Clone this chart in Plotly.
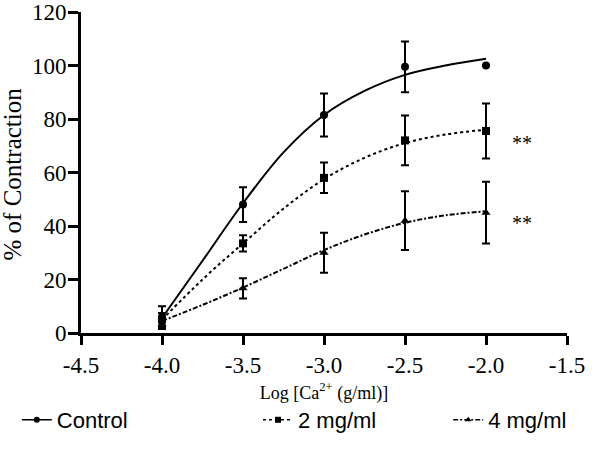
import plotly.graph_objects as go

# ---- data ----
log_ca = [-4.0, -3.5, -3.0, -2.5, -2.0]

control_mean = [6.0, 48.0, 81.5, 99.5, 100.0]
control_sem = [4.0, 6.5, 8.0, 9.5, 0.0]

mg2_mean = [5.0, 33.5, 58.0, 72.0, 75.5]
mg2_sem = [2.5, 3.0, 5.7, 9.3, 10.3]

mg4_mean = [3.5, 16.7, 30.0, 42.0, 45.0]
mg4_sem = [2.0, 3.8, 7.5, 11.0, 11.5]

# fitted curves
curve_x = [-4.0, -3.75, -3.5, -3.25, -3.0, -2.75, -2.5, -2.25, -2.0]
control_curve = [5.6, 27.0, 48.5, 67.5, 81.5, 90.5, 96.5, 100.0, 102.5]
mg2_curve = [5.0, 20.0, 33.5, 46.5, 57.5, 65.5, 71.0, 74.2, 76.0]
mg4_curve = [4.5, 10.5, 17.0, 24.0, 31.0, 36.8, 41.2, 44.0, 45.5]

series_names = ["Control", "2 mg/ml", "4 mg/ml"]
star_labels = ["**", "**"]

x_ticks = [-4.5, -4.0, -3.5, -3.0, -2.5, -2.0, -1.5]
y_ticks = [0, 20, 40, 60, 80, 100, 120]

SERIF = "Liberation Serif, Times New Roman, serif"
SANS = "Liberation Sans, Arial, sans-serif"

styles = [
    dict(mean=control_mean, sem=control_sem, curve=control_curve, symbol="circle", size=8, dash="solid"),
    dict(mean=mg2_mean, sem=mg2_sem, curve=mg2_curve, symbol="square", size=8, dash="dot"),
    dict(mean=mg4_mean, sem=mg4_sem, curve=mg4_curve, symbol="triangle-up", size=8, dash="5px,2px,2px,2px"),
]

fig = go.Figure()
legend_ids = ["legend", "legend2", "legend3"]
for name, st, lg in zip(series_names, styles, legend_ids):
    fig.add_trace(go.Scatter(
        x=curve_x, y=st["curve"], mode="lines", line_shape="spline",
        line=dict(color="black", width=2, dash=st["dash"]),
        showlegend=False, hoverinfo="skip"))
    fig.add_trace(go.Scatter(
        x=log_ca, y=st["mean"], mode="markers",
        marker=dict(symbol=st["symbol"], size=st["size"], color="black"),
        error_y=dict(type="data", array=st["sem"], visible=True,
                     color="black", thickness=2, width=4),
        showlegend=False))
    # legend entry
    fig.add_trace(go.Scatter(
        x=[None], y=[None], mode="lines+markers", name=name,
        line=dict(color="black", width=1.5, dash=st["dash"]),
        marker=dict(symbol=st["symbol"], size=6, color="black"),
        legend=lg, showlegend=True))

star_y = [71, 41]
for txt, yv in zip(star_labels, star_y):
    fig.add_annotation(x=-1.78, y=yv, text=txt, showarrow=False,
                       font=dict(family=SERIF, size=20, color="black"))

# y-axis title as rotated text
fig.add_annotation(xref="paper", yref="paper", x=-0.142, y=0.497,
                   text="% of Contraction", textangle=-90, showarrow=False,
                   xanchor="center", yanchor="middle",
                   font=dict(family=SERIF, size=25, color="black"))

leg_common = dict(font=dict(family=SANS, size=22, color="black"),
                  xref="container", yref="container",
                  yanchor="middle", xanchor="left",
                  bgcolor="rgba(0,0,0,0)", itemsizing="trace")

fig.update_layout(
    width=600, height=457,
    margin=dict(l=81, r=33, t=12, b=124, autoexpand=False),
    paper_bgcolor="white", plot_bgcolor="white",
    legend=dict(x=0.028, y=0.081, **leg_common),
    legend2=dict(x=0.43, y=0.081, **leg_common),
    legend3=dict(x=0.747, y=0.081, **leg_common),
    xaxis=dict(
        range=[-4.5, -1.5], tickvals=x_ticks,
        ticktext=[f"{v:.1f}" for v in x_ticks],
        showgrid=False, zeroline=False,
        showline=True, linecolor="black", linewidth=3,
        ticks="outside", ticklen=9, tickwidth=3, tickcolor="black",
        ticklabeloverflow="allow",
        tickfont=dict(family=SERIF, size=23, color="black"),
        title=dict(text="Log [Ca<sup>2+</sup> (g/ml)]",
                   font=dict(family=SERIF, size=18, color="black"),
                   standoff=10),
    ),
    yaxis=dict(
        range=[0, 120], tickvals=y_ticks,
        showgrid=False, zeroline=False,
        showline=True, linecolor="black", linewidth=3,
        ticks="outside", ticklen=10, tickwidth=3, tickcolor="black",
        ticklabelstandoff=-3, ticklabeloverflow="allow",
        tickfont=dict(family=SERIF, size=23, color="black"),
    ),
)

fig.write_html("out.html", config={"displayModeBar": False},
               post_script="document.body.style.margin='0';")
